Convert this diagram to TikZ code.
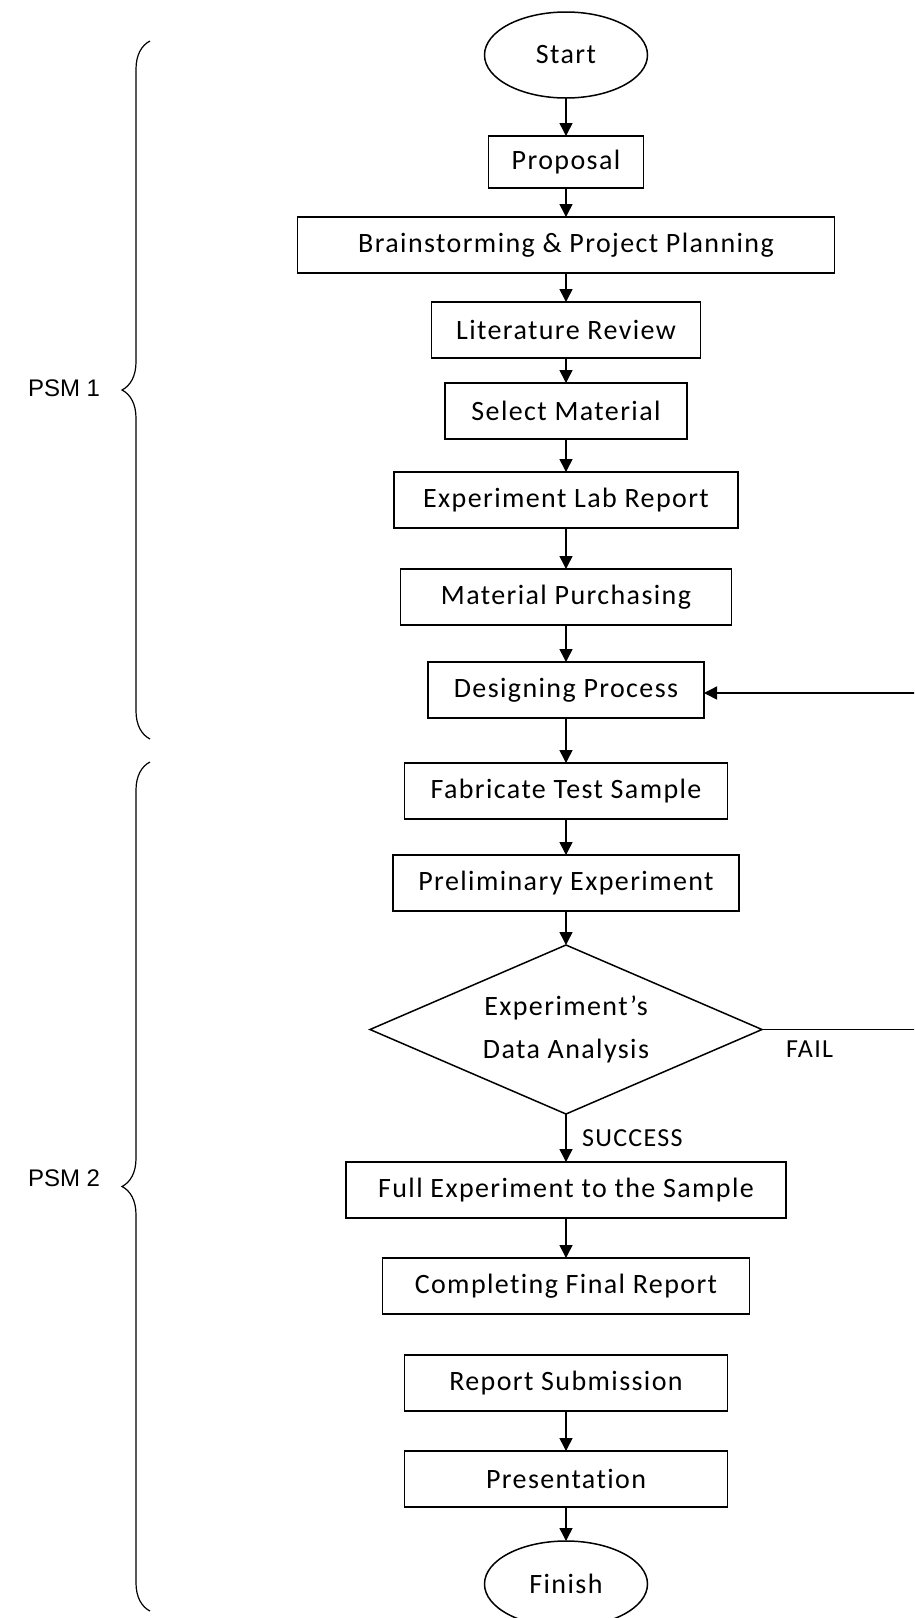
\documentclass[tikz,border=0pt]{standalone}
\usepackage{fontspec}
\setmainfont{Carlito}[LetterSpace=5, Ligatures=NoCommon]
\newfontfamily\psmfont{Liberation Sans}
\usetikzlibrary{positioning,shapes.geometric,arrows.meta,decorations.pathreplacing}

\begin{document}
\begin{tikzpicture}[
  x=1pt, y=-1pt,
  line width=1.5pt,
  box/.style={rectangle, draw, minimum height=56pt, inner sep=2pt, outer sep=0pt,
    font=\fontsize{28}{34}\selectfont},
  term/.style={ellipse, draw, minimum width=163pt, minimum height=86pt, outer sep=0pt,
    font=\fontsize{28}{34}\selectfont},
  decision/.style={diamond, draw, aspect=2.3, inner sep=1pt, outer sep=0pt, align=center,
    minimum width=392pt, minimum height=169pt, font=\fontsize{28}{43}\selectfont},
  arrow/.style={-{Triangle[length=13pt,width=13pt]}},
  flowtxt/.style={font=\fontsize{26}{30}\selectfont},
  psm/.style={anchor=west, font=\psmfont\fontsize{24}{28}\selectfont},
  curly/.style={decorate, line width=1.2pt, decoration={brace, amplitude=28pt}}
]
  \useasboundingbox (0,0) rectangle (914,1618);
  \clip (0,0) rectangle (914,1618);

  \node[term] (start) at (566,55) {Start};
  \node[box, minimum width=155pt, minimum height=52pt, below=38pt of start] (proposal) {Proposal};
  \node[box, minimum width=537pt, below=29pt of proposal] (brain) {Brainstorming \& Project Planning};
  \node[box, minimum width=269pt, below=29pt of brain] (litrev) {Literature Review};
  \node[box, minimum width=242pt, below=25pt of litrev] (select) {Select Material};
  \node[box, minimum width=344pt, below=33pt of select] (labrep) {Experiment Lab Report};
  \node[box, minimum width=331pt, below=41pt of labrep] (purchase) {Material Purchasing};
  \node[box, minimum width=276pt, below=37pt of purchase] (design) {Designing Process};
  \node[box, minimum width=323pt, below=45pt of design] (fabricate) {Fabricate Test Sample};
  \node[box, minimum width=346pt, below=36pt of fabricate] (prelim) {Preliminary Experiment};
  \node[decision, below=34pt of prelim] (analysis) {Experiment’s\\Data Analysis};
  \node[box, minimum width=440pt, below=48pt of analysis] (fullexp) {Full Experiment to the Sample};
  \node[box, minimum width=367pt, below=40pt of fullexp] (final) {Completing Final Report};
  \node[box, minimum width=323pt, below=41pt of final] (submit) {Report Submission};
  \node[box, minimum width=323pt, below=40pt of submit] (present) {Presentation};
  \node[term, below=34pt of present] (finish) {Finish};

  \draw[arrow] (start) -- (proposal);
  \draw[arrow] (proposal) -- (brain);
  \draw[arrow] (brain) -- (litrev);
  \draw[arrow] (litrev) -- (select);
  \draw[arrow] (select) -- (labrep);
  \draw[arrow] (labrep) -- (purchase);
  \draw[arrow] (purchase) -- (design);
  \draw[arrow] (design) -- (fabricate);
  \draw[arrow] (fabricate) -- (prelim);
  \draw[arrow] (prelim) -- (analysis);
  \draw[arrow] (analysis) -- node[flowtxt, right=12pt] {SUCCESS} (fullexp);
  \draw[arrow] (analysis.east) -- ++(170,0) node[flowtxt, pos=0.28, below=7pt] {FAIL} |- ([yshift=-3pt]design.east);
  \draw[arrow] (fullexp) -- (final);
  \draw[arrow] (submit) -- (present);
  \draw[arrow] (present) -- (finish);

  % phases
  \draw[curly] (150,739) -- (150,41);
  \node[psm] (psm1) at (24,388) {PSM 1};
  \draw[curly] (150,1611) -- (150,762);
  \node[psm] (psm2) at (24,1178) {PSM 2};
\end{tikzpicture}
\end{document}
